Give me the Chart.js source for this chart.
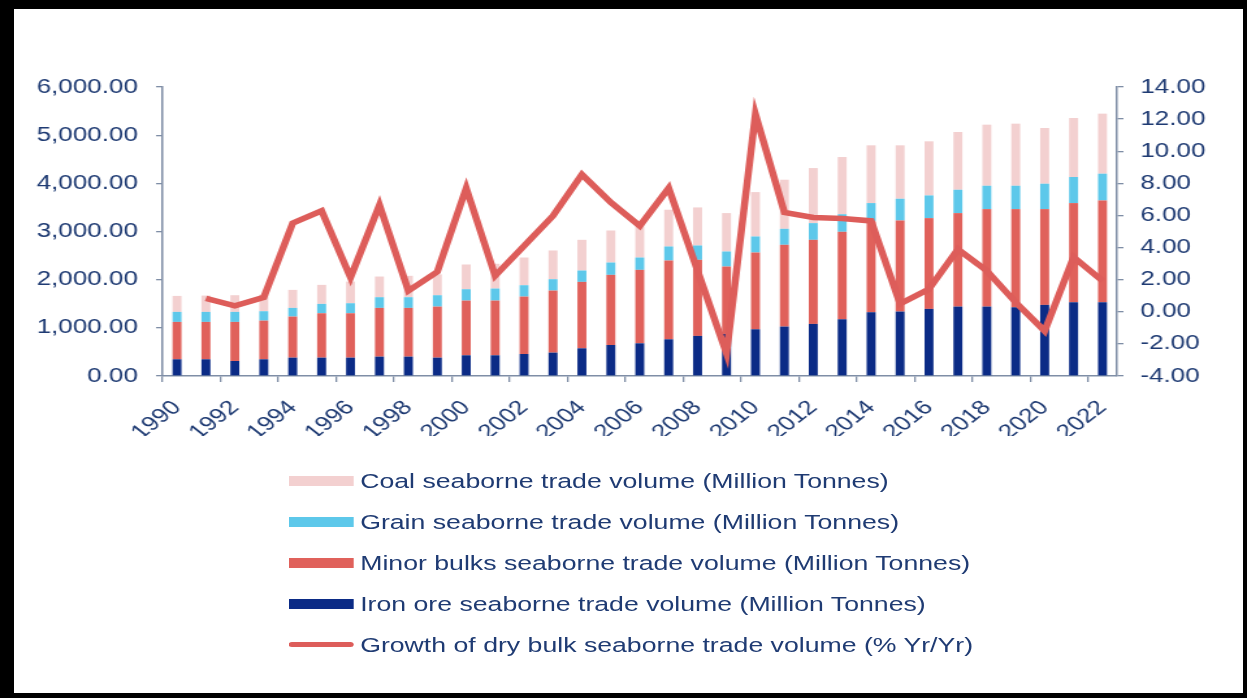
<!DOCTYPE html>
<html>
<head>
<meta charset="utf-8">
<title>Dry bulk seaborne trade</title>
<script src="https://cdn.jsdelivr.net/npm/chart.js@4.4.1/dist/chart.umd.min.js"></script>
<style>
  html, body { margin: 0; padding: 0; background: #fff; }
  body { width: 1247px; height: 698px; position: relative; overflow: hidden; font-family: "Liberation Sans", Arial, sans-serif; }
  /* black frame round the page */
  #frame { position: absolute; left: 0; top: 0; width: 1247px; height: 698px; box-sizing: border-box;
           border-style: solid; border-color: #000; border-width: 9px 4px 5px 14px; pointer-events: none; z-index: 2; }
  /* everything is drawn narrow and stretched sideways */
  #stage { position: absolute; left: 0; top: 0; width: 959px; height: 698px; transform: scaleX(1.3003); transform-origin: 0 0; }
  #chart { position: absolute; left: 0; top: 0; }
  #legend { position: absolute; left: 222px; top: 461px; margin: 0; padding: 0; list-style: none; }
  #legend li { height: 40.8px; display: flex; align-items: center; font-size: 20.5px; color: #1f3b73; white-space: nowrap; }
  #legend .swatch { width: 50px; height: 10px; margin-right: 5px; flex: none; }
  #legend .swatch.line { height: 5px; border-radius: 3px; }
</style>
</head>
<body>
<div id="stage">
  <canvas id="chart" width="959" height="698"></canvas>
  <ul id="legend"></ul>
</div>
<div id="frame"></div>
<script>
const years = [1990, 1991, 1992, 1993, 1994, 1995, 1996, 1997, 1998, 1999, 2000, 2001, 2002, 2003, 2004, 2005, 2006,
               2007, 2008, 2009, 2010, 2011, 2012, 2013, 2014, 2015, 2016, 2017, 2018, 2019, 2020, 2021, 2022];

// Million tonnes, stacked from the bottom: iron ore, minor bulks, grain, coal
const ironOre = [347, 347, 312, 347, 381, 381, 381, 402, 402, 381, 430, 430, 457, 485, 575, 644, 679,
                 762, 832, 873, 970, 1026, 1081, 1178, 1324, 1338, 1393, 1441, 1441, 1427, 1476, 1531, 1531];
const minorBulks = [776, 776, 811, 803, 853, 922, 922, 1012, 1012, 1060, 1136, 1136, 1192, 1289, 1379, 1456, 1525,
                    1636, 1580, 1400, 1594, 1698, 1746, 1816, 1885, 1891, 1885, 1941, 2024, 2038, 1989, 2059, 2114];
const grain = [208, 208, 208, 195, 180, 194, 208, 222, 222, 236, 236, 250, 236, 236, 236, 256, 256,
               291, 298, 312, 333, 332, 347, 365, 381, 451, 471, 485, 485, 485, 527, 541, 555];
const coal = [332, 339, 346, 345, 374, 395, 450, 429, 444, 433, 513, 514, 575, 596, 637, 665, 680,
              763, 790, 797, 921, 1019, 1143, 1187, 1199, 1109, 1123, 1199, 1268, 1289, 1157, 1226, 1247];

// % year on year, no value for the first year
const growth = [null, 0.83, 0.37, 0.90, 5.52, 6.29, 2.14, 6.64, 1.31, 2.49, 7.70, 2.24, 4.10, 5.98, 8.55, 6.81, 5.35,
                7.70, 2.55, -2.60, 12.30, 6.19, 5.87, 5.81, 5.66, 0.50, 1.41, 3.90, 2.55, 0.58, -1.20, 3.40, 1.93];

const volumeAxis = { min: 0, max: 6000, step: 1000 };
const growthAxis = { min: -4, max: 14, step: 2 };

const navy = '#1f3b73';
const axisColor = '#7f8ea6';
const tickFont = { family: '"Liberation Sans", Arial, sans-serif', size: 20 };

Chart.defaults.font.family = tickFont.family;

const barDefaults = { type: 'bar', yAxisID: 'y', barPercentage: 0.31, categoryPercentage: 1.0, order: 1, borderWidth: 0 };

const chart = new Chart(document.getElementById('chart'), {
    data: {
        labels: years,
        datasets: [
            { ...barDefaults, label: 'Iron ore seaborne trade volume (Million Tonnes)', data: ironOre, backgroundColor: '#0b2b86' },
            { ...barDefaults, label: 'Minor bulks seaborne trade volume (Million Tonnes)', data: minorBulks, backgroundColor: '#e0615b' },
            { ...barDefaults, label: 'Grain seaborne trade volume (Million Tonnes)', data: grain, backgroundColor: '#5dc8ea' },
            { ...barDefaults, label: 'Coal seaborne trade volume (Million Tonnes)', data: coal, backgroundColor: '#f3d0d0' },
            {
                type: 'line',
                label: 'Growth of dry bulk seaborne trade volume (% Yr/Yr)',
                data: growth,
                yAxisID: 'y1',
                borderColor: '#dd5d5a',
                backgroundColor: '#dd5d5a',
                borderWidth: 5.5,
                pointRadius: 0,
                tension: 0,
                order: 0
            }
        ]
    },
    options: {
        responsive: false,
        animation: false,
        layout: { padding: { top: 87, bottom: 262, left: 0, right: 0 } },
        plugins: {
            legend: { display: false },
            tooltip: { enabled: false }
        },
        scales: {
            x: {
                stacked: true,
                offset: true,
                grid: {
                    offset: true,
                    drawOnChartArea: false,
                    tickLength: 6,
                    lineWidth: 1.3,
                    // tick marks only between every second pair of years
                    color: ctx => (ctx.index % 2 === 0 ? axisColor : 'rgba(0,0,0,0)')
                },
                border: { color: axisColor, width: 1.5 },
                ticks: {
                    autoSkip: false,
                    minRotation: 45,
                    maxRotation: 45,
                    padding: 14,
                    color: navy,
                    font: tickFont,
                    callback: (value, i) => (i % 2 === 0 ? String(years[i]) : '')
                },
                afterFit: scale => { scale.height = 60; }
            },
            y: {
                position: 'left',
                stacked: true,
                min: volumeAxis.min,
                max: volumeAxis.max,
                grid: { drawOnChartArea: false, tickLength: 5, color: axisColor, lineWidth: 1.3 },
                border: { color: axisColor, width: 1.5 },
                ticks: {
                    stepSize: volumeAxis.step,
                    padding: 14,
                    color: navy,
                    font: tickFont,
                    callback: v => v.toLocaleString('en-US', { minimumFractionDigits: 2, maximumFractionDigits: 2 })
                },
                afterFit: scale => { scale.width = 125; }
            },
            y1: {
                position: 'right',
                min: growthAxis.min,
                max: growthAxis.max,
                grid: { drawOnChartArea: false, tickLength: 5, color: axisColor, lineWidth: 1.3 },
                border: { color: axisColor, width: 1.5 },
                ticks: {
                    stepSize: growthAxis.step,
                    padding: 13,
                    color: navy,
                    font: tickFont,
                    callback: v => v.toFixed(2)
                },
                afterFit: scale => { scale.width = 100; }
            }
        }
    }
});

// Legend list, top to bottom: coal, grain, minor bulks, iron ore, growth line
const legend = document.getElementById('legend');
[3, 2, 1, 0, 4].forEach(i => {
    const ds = chart.data.datasets[i];
    const li = document.createElement('li');
    const swatch = document.createElement('span');
    swatch.className = ds.type === 'line' ? 'swatch line' : 'swatch';
    swatch.style.background = ds.type === 'line' ? ds.borderColor : ds.backgroundColor;
    li.appendChild(swatch);
    li.appendChild(document.createTextNode(ds.label));
    legend.appendChild(li);
});
</script>
</body>
</html>
